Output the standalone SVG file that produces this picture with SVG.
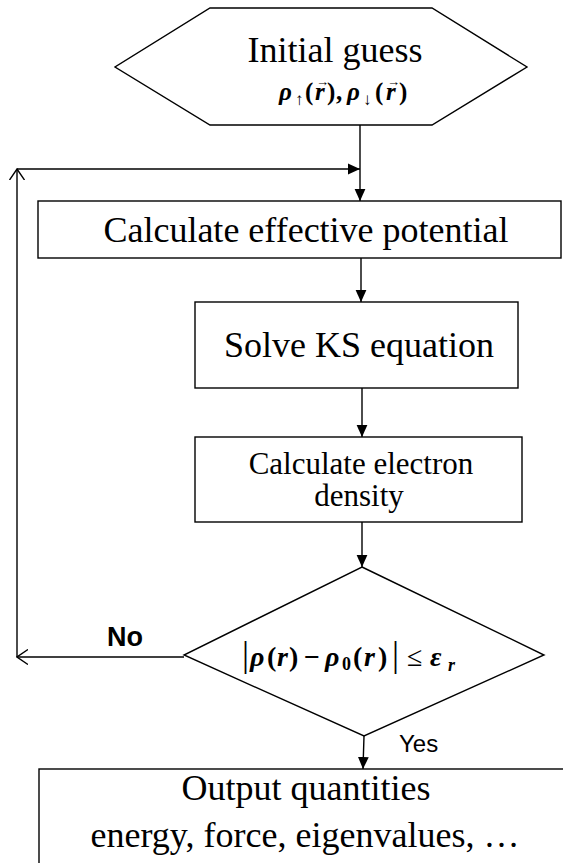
<svg xmlns="http://www.w3.org/2000/svg" width="563" height="863" viewBox="0 0 563 863">
<style>
.shape{fill:#fff;stroke:#000;stroke-width:1.4}
.ln{fill:none;stroke:#000;stroke-width:1.4}
</style>
<defs>
<marker id="fa" markerUnits="userSpaceOnUse" markerWidth="12" markerHeight="12" viewBox="0 0 10 10" refX="10" refY="5" orient="auto">
<path d="M0,0.5 L10,5 L0,9.5 z" fill="#000"/>
</marker>
<marker id="oa" markerUnits="userSpaceOnUse" markerWidth="12" markerHeight="16" viewBox="0 0 12 16" refX="11" refY="8" orient="auto">
<path d="M0,0.5 L11,8 L0,15.5" fill="none" stroke="#000" stroke-width="1.4"/>
</marker>
</defs>
<rect width="563" height="863" fill="#fff"/>

<g id="connectors">
<line class="ln" x1="360" y1="125" x2="360" y2="201" marker-end="url(#fa)"/>
<line class="ln" x1="17" y1="169" x2="360" y2="169" marker-end="url(#fa)"/>
<line class="ln" x1="17" y1="657" x2="17" y2="169" marker-end="url(#oa)"/>
<line class="ln" x1="184" y1="657" x2="17" y2="657" marker-end="url(#oa)"/>
<line class="ln" x1="361" y1="258" x2="361" y2="302" marker-end="url(#fa)"/>
<line class="ln" x1="362" y1="388" x2="362" y2="437" marker-end="url(#fa)"/>
<line class="ln" x1="362" y1="522" x2="362" y2="567" marker-end="url(#fa)"/>
<line class="ln" x1="364" y1="736" x2="363" y2="769" marker-end="url(#fa)"/>
<text x="107" y="646" font-family="Liberation Sans, Arial, sans-serif" font-size="27" font-weight="bold" fill="#000">No</text>
<text x="399" y="752" font-family="Liberation Sans, Arial, sans-serif" font-size="24" fill="#000">Yes</text>
</g>

<g id="initial" font-family="Liberation Serif, Times New Roman, serif" fill="#000">
<polygon class="shape" points="210,8 432,8 527,67 432,125 210,125 115,67"/>
<text x="335" y="62" font-size="36" text-anchor="middle">Initial guess</text>
<text y="100" font-size="25" font-weight="bold" font-style="italic"><tspan x="279">ρ</tspan><tspan x="295" dy="5" font-size="17" font-style="normal">↑</tspan><tspan x="305" dy="-5" font-style="normal">(</tspan><tspan x="315">r</tspan><tspan x="327" font-style="normal">)</tspan><tspan x="336" font-style="normal">,</tspan><tspan x="347">ρ</tspan><tspan x="363" dy="5" font-size="17" font-style="normal">↓</tspan><tspan x="375" dy="-5" font-style="normal">(</tspan><tspan x="386">r</tspan><tspan x="399" font-style="normal">)</tspan></text>
<text y="86" font-size="13" font-weight="bold"><tspan x="316">→</tspan><tspan x="387">→</tspan></text>
</g>

<g id="potential" font-family="Liberation Serif, Times New Roman, serif" fill="#000">
<rect class="shape" x="38" y="201" width="523" height="57"/>
<text x="306" y="242" font-size="36" text-anchor="middle">Calculate effective potential</text>
</g>

<g id="solve" font-family="Liberation Serif, Times New Roman, serif" fill="#000">
<rect class="shape" x="195" y="302" width="323" height="86"/>
<text x="359" y="357" font-size="36" text-anchor="middle">Solve KS equation</text>
</g>

<g id="density" font-family="Liberation Serif, Times New Roman, serif" fill="#000">
<rect class="shape" x="195" y="437" width="327" height="85"/>
<text x="361" y="474" font-size="31" text-anchor="middle">Calculate electron</text>
<text x="359" y="506" font-size="31" text-anchor="middle">density</text>
</g>

<g id="check" font-family="Liberation Serif, Times New Roman, serif" fill="#000">
<polygon class="shape" points="362,567 544,655 364,736 184,655"/>
<text y="666" font-size="28" font-weight="bold" font-style="italic"><tspan x="242" font-size="35" font-weight="normal" font-style="normal">|</tspan><tspan x="250">ρ</tspan><tspan x="267" font-style="normal">(</tspan><tspan x="277">r</tspan><tspan x="289" font-style="normal">)</tspan><tspan x="304" font-style="normal">−</tspan><tspan x="325">ρ</tspan><tspan x="342" dy="4" font-size="18" font-style="normal">0</tspan><tspan x="353" dy="-4" font-style="normal">(</tspan><tspan x="364">r</tspan><tspan x="378" font-style="normal">)</tspan><tspan x="392" font-size="35" font-weight="normal" font-style="normal">|</tspan><tspan x="407" font-weight="normal" font-style="normal">≤</tspan><tspan x="430">ε</tspan><tspan x="448" dy="5" font-size="18">r</tspan></text>
</g>

<g id="output" font-family="Liberation Serif, Times New Roman, serif" fill="#000">
<rect class="shape" x="39" y="769" width="540" height="120"/>
<text x="306" y="800" font-size="36" text-anchor="middle">Output quantities</text>
<text x="305" y="847" font-size="36" text-anchor="middle">energy, force, eigenvalues, …</text>
</g>
</svg>
